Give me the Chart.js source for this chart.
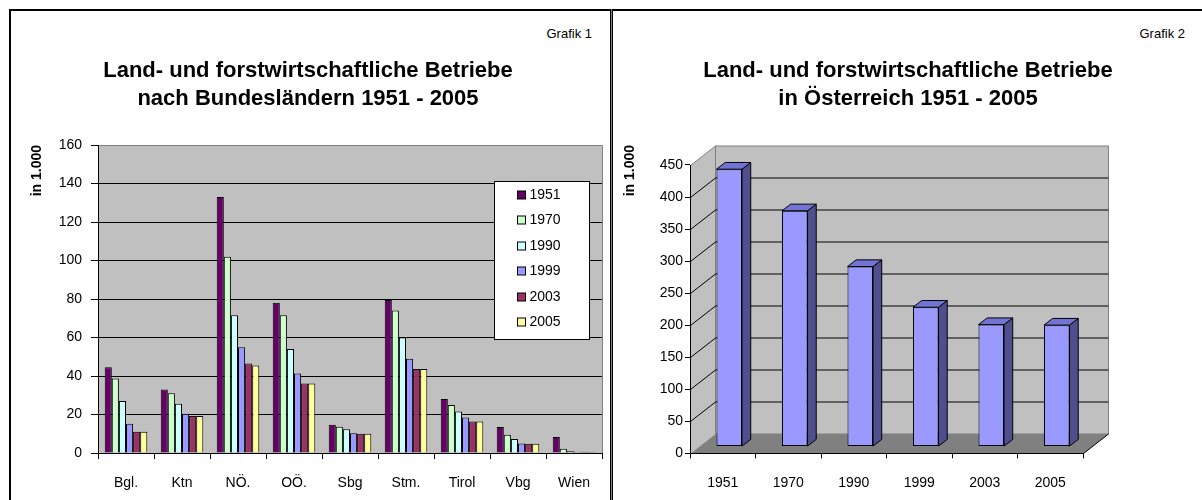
<!DOCTYPE html>
<html>
<head>
<meta charset="utf-8">
<script src="https://cdn.jsdelivr.net/npm/chart.js@4.4.1/dist/chart.umd.min.js"></script>
<style>
  html, body { margin: 0; padding: 0; background: #fff; }
  #wrap { position: relative; width: 1202px; height: 500px; overflow: hidden; background: #fff; }
  .ln { position: absolute; background: #000; }
  .cv { position: absolute; }
  .grafik { position: absolute; font-family: "Liberation Sans", Arial, sans-serif; font-size: 13px; line-height: 14px; color: #000; white-space: nowrap; }
</style>
</head>
<body>
<div id="wrap">
  <div class="ln" style="left:9px; top:9px; width:1193px; height:2px;"></div>
  <div class="ln" style="left:9px; top:9px; width:2px; height:491px;"></div>
  <div class="ln" style="left:610px; top:9px; width:1px; height:491px;"></div>
  <div class="ln" style="left:611px; top:9px; width:1px; height:491px; background:#808080;"></div>
  <div class="ln" style="left:612px; top:9px; width:1px; height:491px;"></div>
  <div class="grafik" style="right:610px; top:27px;">Grafik 1</div>
  <div class="grafik" style="right:17px; top:27px;">Grafik 2</div>
  <div class="cv" style="left:12px; top:12px; width:598px; height:488px;"><canvas id="c1"></canvas></div>
  <div class="cv" style="left:614px; top:12px; width:588px; height:488px;"><canvas id="c2"></canvas></div>
</div>
<script>
// ---------- data ----------
const regions = ['Bgl.', 'Ktn', 'NÖ.', 'OÖ.', 'Sbg', 'Stm.', 'Tirol', 'Vbg', 'Wien'];
const years = ['1951', '1970', '1990', '1999', '2003', '2005'];
const values1951 = [44.5, 33.0, 133.0, 78.0, 14.7, 79.5, 28.0, 13.5, 8.3];
const values1970 = [38.7, 31.0, 102.0, 71.5, 13.6, 74.0, 25.0, 9.5, 2.2];
const values1990 = [27.0, 25.6, 71.6, 54.0, 12.3, 60.0, 21.6, 7.3, 0.9];
const values1999 = [15.2, 20.4, 55.0, 41.3, 10.2, 49.0, 18.5, 5.0, 0.7];
const values2003 = [11.1, 19.2, 46.5, 36.1, 10.0, 43.6, 16.4, 4.8, 0.6];
const values2005 = [11.1, 19.2, 45.5, 36.1, 10.0, 43.6, 16.4, 4.8, 0.6];
const austriaTotal = [433, 368, 281, 217.5, 190.4, 189.6];
const yTicksLeft = [0, 20, 40, 60, 80, 100, 120, 140, 160];
const yTicksRight = [0, 50, 100, 150, 200, 250, 300, 350, 400, 450];

const seriesColors = ['#660066', '#CCFFCC', '#CCFFFF', '#9999FF', '#993366', '#FFFF99'];
const seriesValues = [values1951, values1970, values1990, values1999, values2003, values2005];

const FONT = '"Liberation Sans", Arial, sans-serif';
Chart.defaults.font.family = FONT;
Chart.defaults.font.size = 14;
Chart.defaults.color = '#000';
Chart.defaults.animation = false;
Chart.defaults.responsive = true;
Chart.defaults.maintainAspectRatio = false;

const titleFont = { size: 22, weight: 'bold', lineHeight: 28 / 22 };

// ---------- chart 1 ----------
const plotBg1 = {
  id: 'plotBg1',
  beforeDraw(chart) {
    const { ctx, chartArea: ca } = chart;
    ctx.save();
    ctx.fillStyle = '#c0c0c0';
    ctx.fillRect(ca.left, ca.top, ca.width, ca.height);
    ctx.strokeStyle = '#808080';
    ctx.lineWidth = 1;
    ctx.beginPath();
    ctx.moveTo(ca.left, Math.round(ca.top) + 0.5);
    ctx.lineTo(Math.round(ca.right) + 0.5, Math.round(ca.top) + 0.5);
    ctx.lineTo(Math.round(ca.right) + 0.5, ca.bottom);
    ctx.stroke();
    ctx.restore();
  }
};

const boxLegend = {
  id: 'boxLegend',
  afterDraw(chart) {
    const { ctx } = chart;
    const x0 = 482.5, y0 = 169.5, w = 95, h = 158;
    ctx.save();
    ctx.fillStyle = '#fff';
    ctx.fillRect(x0, y0, w, h);
    ctx.strokeStyle = '#000';
    ctx.lineWidth = 1;
    ctx.strokeRect(x0, y0, w, h);
    ctx.font = '14px ' + FONT;
    ctx.textBaseline = 'middle';
    chart.data.datasets.forEach((ds, i) => {
      const cy = Math.round(y0 + 13 + i * 25.5);
      ctx.fillStyle = ds.backgroundColor;
      ctx.fillRect(x0 + 23, cy - 4, 8, 8);
      ctx.strokeRect(x0 + 23, cy - 4, 8, 8);
      ctx.fillStyle = '#000';
      ctx.fillText(ds.label, x0 + 35, cy + 0.5);
    });
    ctx.restore();
  }
};

new Chart(document.getElementById('c1'), {
  type: 'bar',
  data: {
    labels: regions,
    datasets: years.map((yr, i) => ({
      label: yr,
      data: seriesValues[i],
      backgroundColor: seriesColors[i],
      borderColor: '#000',
      borderWidth: 1,
      categoryPercentage: 0.76,
      barPercentage: 1.0
    }))
  },
  options: {
    layout: { padding: { left: 2, right: 8, top: 0, bottom: 0 } },
    plugins: {
      legend: { display: false },
      tooltip: { enabled: false },
      title: {
        display: true,
        text: ['Land- und forstwirtschaftliche Betriebe', 'nach Bundesländern 1951 - 2005'],
        font: titleFont,
        color: '#000',
        padding: { top: 45, bottom: 32 }
      }
    },
    scales: {
      x: {
        grid: { display: true, drawOnChartArea: false, drawTicks: true, tickLength: 6, tickColor: '#000', color: '#000', offset: true },
        border: { display: true, color: '#000', width: 1 },
        ticks: { padding: 16 },
        afterFit(s) { s.height = 47; }
      },
      y: {
        min: 0, max: 160,
        afterBuildTicks(s) { s.ticks = yTicksLeft.map(v => ({ value: v })); },
        grid: {
          color: (c) => (c.tick && c.tick.value === 160 ? '#808080' : '#000'),
          tickColor: '#000', tickLength: 7, lineWidth: 1
        },
        border: { display: true, color: '#000', width: 1 },
        ticks: { padding: 9 },
        title: { display: true, text: 'in 1.000', align: 'end', font: { size: 14, weight: 'bold' }, padding: { top: 15, bottom: 0 } },
        afterFit(s) { s.width = 84; }
      }
    }
  },
  plugins: [plotBg1, boxLegend]
});

// ---------- chart 2 (3D look) ----------
const D = { wx: 25, wy: -19.5, bx: 6.5, by: -6.7, sx: 8.7, sy: -6.7 };
const threeD = {
  id: 'threeD',
  beforeDraw(chart) {
    const { ctx, chartArea: ca, scales: { y } } = chart;
    const L = Math.round(ca.left) + 0.5, R = Math.round(ca.right) + 0.5;
    const T = Math.round(y.getPixelForValue(450)) + 0.5, B = Math.round(y.getPixelForValue(0)) + 0.5;
    ctx.save();
    ctx.lineWidth = 1;
    // side wall
    ctx.fillStyle = '#c0c0c0';
    ctx.beginPath();
    ctx.moveTo(L, T); ctx.lineTo(L + D.wx, T + D.wy); ctx.lineTo(L + D.wx, B + D.wy); ctx.lineTo(L, B);
    ctx.closePath(); ctx.fill();
    ctx.strokeStyle = '#808080';
    ctx.beginPath(); ctx.moveTo(L, T); ctx.lineTo(L + D.wx, T + D.wy); ctx.stroke();
    // back wall
    ctx.fillRect(L + D.wx, T + D.wy, R - L, B - T);
    ctx.strokeRect(L + D.wx, T + D.wy, R - L, B - T);
    // floor
    ctx.fillStyle = '#808080';
    ctx.beginPath();
    ctx.moveTo(L, B); ctx.lineTo(L + D.wx, B + D.wy); ctx.lineTo(R + D.wx, B + D.wy); ctx.lineTo(R, B);
    ctx.closePath(); ctx.fill();
    ctx.strokeStyle = '#000';
    ctx.beginPath(); ctx.moveTo(R, B); ctx.lineTo(R + D.wx, B + D.wy); ctx.stroke();
    // gridlines on back wall and side wall
    y.ticks.forEach(t => {
      if (t.value <= 0 || t.value >= 450) return;
      const py = Math.round(y.getPixelForValue(t.value)) + 0.5;
      ctx.beginPath();
      ctx.moveTo(L, py); ctx.lineTo(L + D.wx, py + D.wy); ctx.lineTo(R + D.wx, py + D.wy);
      ctx.stroke();
    });
    ctx.restore();
  },
  beforeDatasetsDraw(chart) {
    const { ctx, chartArea: ca, scales: { y } } = chart;
    // front value axis line (0 .. 450)
    ctx.save();
    ctx.strokeStyle = '#000';
    ctx.lineWidth = 1;
    const L = Math.round(ca.left) + 0.5;
    ctx.beginPath();
    ctx.moveTo(L, Math.round(y.getPixelForValue(450)));
    ctx.lineTo(L, Math.round(y.getPixelForValue(0)) + 1);
    ctx.stroke();
    ctx.restore();
    ctx.save();
    ctx.translate(D.bx, D.by);
  },
  afterDatasetsDraw(chart) {
    const ctx = chart.ctx;
    ctx.lineWidth = 1;
    ctx.strokeStyle = '#000';
    chart.getDatasetMeta(0).data.forEach(bar => {
      const { x, y, base, width } = bar.getProps(['x', 'y', 'base', 'width'], true);
      const l = x - width / 2, r = x + width / 2;
      ctx.fillStyle = '#4f4f8f';
      ctx.beginPath();
      ctx.moveTo(r, y); ctx.lineTo(r + D.sx, y + D.sy); ctx.lineTo(r + D.sx, base + D.sy); ctx.lineTo(r, base);
      ctx.closePath(); ctx.fill(); ctx.stroke();
      ctx.fillStyle = '#7373d6';
      ctx.beginPath();
      ctx.moveTo(l, y); ctx.lineTo(l + D.sx, y + D.sy); ctx.lineTo(r + D.sx, y + D.sy); ctx.lineTo(r, y);
      ctx.closePath(); ctx.fill(); ctx.stroke();
    });
    ctx.restore();
  }
};

new Chart(document.getElementById('c2'), {
  type: 'bar',
  data: {
    labels: years,
    datasets: [{
      label: 'Österreich',
      data: austriaTotal,
      backgroundColor: '#9999FF',
      borderColor: '#000',
      borderWidth: 1,
      borderSkipped: false,
      categoryPercentage: 1.0,
      barPercentage: 0.39,
      clip: false
    }]
  },
  options: {
    layout: { padding: { left: 0, right: 0, top: 0, bottom: 0 } },
    plugins: {
      legend: { display: false },
      tooltip: { enabled: false },
      title: {
        display: true,
        text: ['Land- und forstwirtschaftliche Betriebe', 'in Österreich 1951 - 2005'],
        font: titleFont,
        color: '#000',
        padding: { top: 45, bottom: 32 }
      }
    },
    scales: {
      x: {
        grid: { display: true, drawOnChartArea: false, drawTicks: true, tickLength: 5, tickColor: '#000', color: '#000', offset: true },
        border: { display: true, color: '#000', width: 1 },
        ticks: { padding: 16 },
        afterFit(s) { s.height = 46.7; }
      },
      y: {
        min: 0, max: 481.2,
        afterBuildTicks(s) { s.ticks = yTicksRight.map(v => ({ value: v })); },
        grid: { display: true, drawOnChartArea: false, tickColor: '#000', tickLength: 5 },
        border: { display: false },
        ticks: { padding: 2 },
        title: { display: true, text: 'in 1.000', align: 'end', font: { size: 14, weight: 'bold' }, padding: { top: 8, bottom: 0 } },
        afterFit(s) { s.width = 76; }
      },
      yR: {
        type: 'linear', position: 'right', display: true,
        grid: { display: false }, border: { display: false }, ticks: { display: false },
        afterFit(s) { s.width = 119; }
      }
    }
  },
  plugins: [threeD]
});
</script>
</body>
</html>
